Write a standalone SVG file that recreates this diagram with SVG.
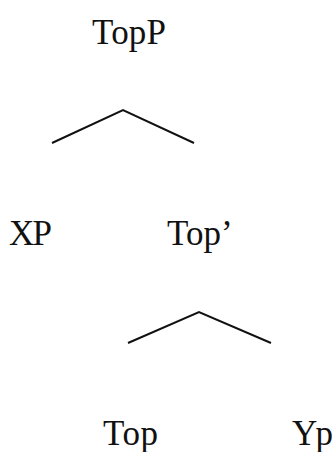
<svg xmlns="http://www.w3.org/2000/svg" width="336" height="452" viewBox="0 0 336 452">
<style>
text{font-family:"Liberation Serif","Times New Roman",serif;font-size:35px;fill:#111}
.e{fill:none;stroke:#111;stroke-width:2;stroke-linejoin:miter}
</style>
<rect width="336" height="452" fill="#fff"/>
<g id="connectors">
<polyline class="e" points="52,143 123,110 194,143"/>
<polyline class="e" points="128,343 199,312 271,343"/>
</g>
<g id="TopP"><text x="92" y="44" textLength="74">TopP</text></g>
<g id="XP"><text x="9" y="245" textLength="43">XP</text></g>
<g id="TopBar"><text x="167" y="245">Top’</text></g>
<g id="Top"><text x="103" y="445" textLength="55">Top</text></g>
<g id="Yp"><text x="292" y="445" textLength="41">Yp</text></g>
</svg>
